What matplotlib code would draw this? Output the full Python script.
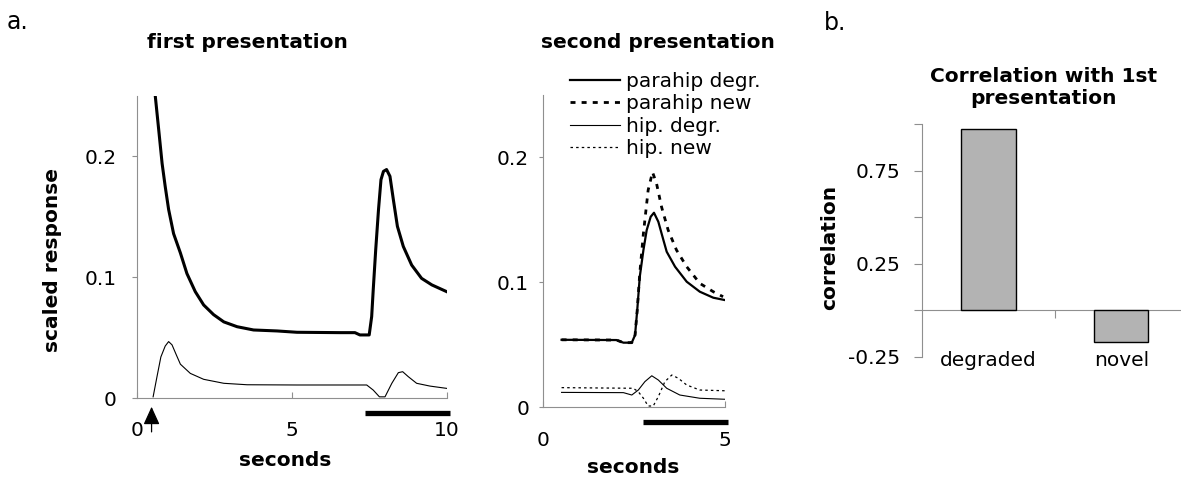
import numpy as np
import matplotlib
matplotlib.use("Agg")
import matplotlib.pyplot as plt

# ---- data ----
# first presentation
t1_para = [0.55, 0.59, 0.70, 0.81, 0.91, 1.02, 1.18, 1.40, 1.61, 1.88, 2.15, 2.47, 2.80, 3.23, 3.76,
           4.52, 5.16, 6.55, 7.03, 7.19, 7.49, 7.57, 7.62, 7.70, 7.79, 7.87, 7.95, 8.05, 8.16, 8.27,
           8.40, 8.59, 8.86, 9.18, 9.51, 9.99]
y1_para = [0.27, 0.2497, 0.222, 0.194, 0.175, 0.156, 0.136, 0.120, 0.103, 0.088, 0.077, 0.069, 0.063,
           0.059, 0.0563, 0.0555, 0.0544, 0.0541, 0.0541, 0.0522, 0.0522, 0.0674, 0.0895, 0.1226,
           0.1558, 0.1806, 0.1875, 0.189, 0.1834, 0.164, 0.142, 0.1254, 0.110, 0.099, 0.0936, 0.088]
t1_hip = [0.52, 0.645, 0.77, 0.91, 1.02, 1.13, 1.27, 1.40, 1.72, 2.15, 2.80, 3.55, 5.16, 7.41, 7.62,
          7.82, 8.0, 8.22, 8.43, 8.57, 8.75, 9.02, 9.45, 9.99]
y1_hip = [0.001, 0.0177, 0.034, 0.043, 0.0467, 0.044, 0.0356, 0.028, 0.0204, 0.0155, 0.0122, 0.011,
          0.0108, 0.0108, 0.0066, 0.001, 0.001, 0.0122, 0.021, 0.0218, 0.0177, 0.0122, 0.0099, 0.008]
stim1 = [7.37, 10.1]
onset1 = 0.47

# second presentation
t2_para_degr = [0.51, 2.02, 2.21, 2.44, 2.53, 2.59, 2.66, 2.76, 2.85, 2.96, 3.05, 3.17, 3.31, 3.40,
                3.63, 3.95, 4.31, 4.68, 5.0]
y2_para_degr = [0.0538, 0.0536, 0.0515, 0.0515, 0.0576, 0.0776, 0.1043, 0.1256, 0.1416, 0.1523,
                0.1555, 0.1483, 0.1336, 0.1243, 0.1123, 0.1003, 0.0923, 0.0875, 0.0856]
t2_para_new = [0.51, 2.02, 2.21, 2.44, 2.53, 2.59, 2.66, 2.76, 2.89, 3.01, 3.12, 3.26, 3.44, 3.67,
               3.95, 4.31, 4.68, 4.95]
y2_para_new = [0.0538, 0.0536, 0.0515, 0.0515, 0.0576, 0.0776, 0.107, 0.139, 0.1736, 0.188, 0.179,
               0.160, 0.1416, 0.1256, 0.1123, 0.099, 0.0923, 0.0883]
t2_hip_degr = [0.51, 2.21, 2.44, 2.62, 2.80, 2.99, 3.17, 3.40, 3.76, 4.31, 5.0]
y2_hip_degr = [0.0117, 0.0115, 0.0096, 0.0136, 0.0203, 0.025, 0.0216, 0.015, 0.0096, 0.007, 0.0062]
t2_hip_new = [0.51, 2.48, 2.62, 2.76, 2.89, 3.03, 3.17, 3.35, 3.54, 3.72, 3.95, 4.31, 5.0]
y2_hip_new = [0.0155, 0.015, 0.0122, 0.007, 0.0008, 0.0008, 0.0083, 0.0203, 0.0256, 0.023, 0.0176,
              0.0136, 0.013]
stim2 = [2.75, 5.09]

# correlation bars
categories = ["degraded", "novel"]
correlations = [0.975, -0.168]
corr_ticks = [-0.25, 0, 0.25, 0.5, 0.75, 1.0]
corr_ticklabels = ["-0.25", "", "0.25", "", "0.75", ""]

FS = 14.5
GREY = "#8f8f8f"
plt.rcParams["font.family"] = "DejaVu Sans"

fig = plt.figure(figsize=(11.81, 4.79), dpi=100)


def style_axes(ax):
    for s in ["top", "right"]:
        ax.spines[s].set_visible(False)
    for s in ["left", "bottom"]:
        ax.spines[s].set_color(GREY)
        ax.spines[s].set_linewidth(0.8)


# ---- panel a, first presentation ----
ax1 = fig.add_axes([0.116, 0.169, 0.2625, 0.631])
ax1.plot(t1_para, y1_para, color="black", lw=2.2, solid_joinstyle="round")
ax1.plot(t1_hip, y1_hip, color="black", lw=0.8)
ax1.plot(stim1, [-0.0124, -0.0124], color="black", lw=3.8, clip_on=False, solid_capstyle="butt")
ax1.annotate("", xy=(onset1, -0.0072), xytext=(onset1, -0.028), xycoords="data",
             arrowprops=dict(arrowstyle="-|>,head_width=0.5,head_length=1.1", color="black",
                             lw=0.9, mutation_scale=10, shrinkA=0, shrinkB=0),
             annotation_clip=False)
ax1.set_xlim(0, 10)
ax1.set_ylim(0, 0.25)
ax1.set_xticks([0, 5, 10])
ax1.set_yticks([0, 0.1, 0.2])
ax1.set_yticklabels(["0", "0.1", "0.2"])
ax1.tick_params(axis="x", direction="in", length=4, color=GREY, labelsize=FS, pad=16.5)
ax1.tick_params(axis="y", direction="out", length=3.5, color=GREY, labelsize=FS, pad=11)
style_axes(ax1)
ax1.set_xlabel("seconds", fontsize=FS, fontweight="bold", va="center")
ax1.xaxis.set_label_coords(0.477, -0.205)
ax1.set_ylabel("scaled response", fontsize=FS, fontweight="bold", va="center")
ax1.yaxis.set_label_coords(-0.271, 0.457)

# ---- panel a, second presentation ----
ax2 = fig.add_axes([0.4598, 0.1503, 0.154, 0.652])
ax2.plot(t2_para_degr, y2_para_degr, color="black", lw=1.6, label="parahip degr.")
ax2.plot(t2_para_new, y2_para_new, color="black", lw=2.0, dashes=(1.8, 2.2), label="parahip new")
ax2.plot(t2_hip_degr, y2_hip_degr, color="black", lw=0.8, label="hip. degr.")
ax2.plot(t2_hip_new, y2_hip_new, color="black", lw=0.9, dashes=(2.0, 2.5), label="hip. new")
ax2.plot(stim2, [-0.0123, -0.0123], color="black", lw=3.8, clip_on=False, solid_capstyle="butt")
ax2.set_xlim(0, 5)
ax2.set_ylim(0, 0.25)
ax2.set_xticks([0, 5])
ax2.set_yticks([0, 0.1, 0.2])
ax2.set_yticklabels(["0", "0.1", "0.2"])
ax2.tick_params(axis="x", direction="in", length=4, color=GREY, labelsize=FS, pad=17)
ax2.tick_params(axis="y", direction="out", length=3, color=GREY, labelsize=FS, pad=7)
style_axes(ax2)
ax2.set_xlabel("seconds", fontsize=FS, fontweight="bold", va="center")
ax2.xaxis.set_label_coords(0.495, -0.195)
ax2.legend(loc="upper left", bbox_to_anchor=(570 / 1181, 0.850), bbox_transform=fig.transFigure,
           frameon=False, fontsize=FS, handlelength=2.5, handletextpad=0.3, labelspacing=0.17,
           borderpad=0, borderaxespad=0)

# ---- panel b, correlation ----
ax3 = fig.add_axes([0.7807, 0.2547, 0.2193, 0.4864])
xpos = np.arange(len(categories)) + 0.5
ax3.bar(xpos, correlations, width=0.41, color="#b3b3b3", edgecolor="black", linewidth=1.0, zorder=3)
ax3.set_xlim(0, 1.95)
ax3.set_ylim(-0.25, 1.0)
ax3.spines["bottom"].set_position(("data", 0))
style_axes(ax3)
ax3.set_xticks([1.0])
ax3.set_xticklabels([""])
ax3.set_yticks(corr_ticks)
ax3.set_yticklabels(corr_ticklabels)
ax3.tick_params(axis="x", direction="out", length=6, color=GREY)
ax3.tick_params(axis="y", direction="out", length=6, color=GREY, labelsize=FS, pad=9.5)
for x, c in zip(xpos, categories):
    ax3.text(x, -0.268, c, ha="center", va="center", fontsize=FS)
ax3.set_ylabel("correlation", fontsize=FS, fontweight="bold", va="center")
ax3.yaxis.set_label_coords(-0.355, 0.472)

# ---- titles and panel letters ----
fig.text(247 / 1181, 1 - 43 / 479, "first presentation", ha="center", va="center",
         fontsize=FS, fontweight="bold")
fig.text(658 / 1181, 1 - 43 / 479, "second presentation", ha="center", va="center",
         fontsize=FS, fontweight="bold")
fig.text(1044 / 1181, 1 - 87.5 / 479, "Correlation with 1st\npresentation", ha="center", va="center",
         fontsize=FS, fontweight="bold", linespacing=1.2)
fig.text(18 / 1181, 1 - 22 / 479, "a.", ha="center", va="center", fontsize=17)
fig.text(835 / 1181, 1 - 23 / 479, "b.", ha="center", va="center", fontsize=17)

fig.savefig("out.png", dpi=100)
